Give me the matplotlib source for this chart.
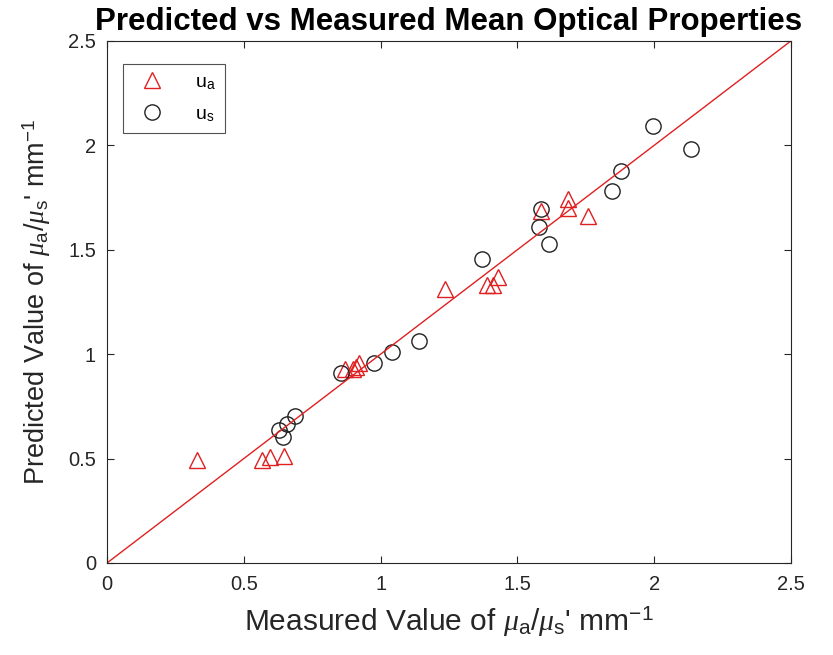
import matplotlib
matplotlib.use("Agg")
import matplotlib.pyplot as plt

plt.rcParams['font.family'] = ['Liberation Sans', 'DejaVu Sans']
plt.rcParams['mathtext.fontset'] = 'custom'
plt.rcParams['mathtext.rm'] = 'Liberation Sans'
plt.rcParams['mathtext.it'] = 'Liberation Serif:italic'

# data
ua_measured = [0.33, 0.567, 0.597, 0.648, 0.87, 0.90, 0.91, 0.92, 1.237, 1.39, 1.41, 1.43, 1.587, 1.686, 1.686, 1.758]
ua_predicted = [0.493, 0.493, 0.508, 0.512, 0.93, 0.93, 0.94, 0.96, 1.312, 1.33, 1.33, 1.37, 1.687, 1.742, 1.699, 1.662]
us_measured = [0.627, 0.645, 0.657, 0.688, 0.855, 0.975, 1.042, 1.139, 1.369, 1.578, 1.587, 1.615, 1.845, 1.880, 1.994, 2.134]
us_predicted = [0.637, 0.602, 0.666, 0.705, 0.911, 0.956, 1.009, 1.065, 1.454, 1.608, 1.695, 1.528, 1.783, 1.877, 2.093, 1.981]
line_x = [0, 2.5]
line_y = [0, 2.5]
ticks = [0, 0.5, 1, 1.5, 2, 2.5]
tick_labels = ['0', '0.5', '1', '1.5', '2', '2.5']

fig = plt.figure(figsize=(8.33, 6.55), dpi=100)
ax = fig.add_axes([0.1285, 0.1405, 0.821, 0.797])

ax.plot(ua_measured, ua_predicted, linestyle='none', marker='^', markersize=11,
        markerfacecolor='none', markeredgecolor='#e02020', markeredgewidth=1.0, label='u$_\\mathrm{a}$')
ax.plot(us_measured, us_predicted, linestyle='none', marker='o', markersize=11,
        markerfacecolor='none', markeredgecolor='#222222', markeredgewidth=1.0, label='u$_\\mathrm{s}$')
ax.plot(line_x, line_y, color='#e02020', linewidth=1.0)

ax.set_xlim(0, 2.5)
ax.set_ylim(0, 2.5)
ax.set_xticks(ticks)
ax.set_xticklabels(tick_labels)
ax.set_yticks(ticks)
ax.set_yticklabels(tick_labels)
ax.tick_params(direction='in', top=True, right=True, labelsize=14.5, colors='#262626', length=5, width=0.8)
ax.tick_params(axis='x', pad=9)
ax.tick_params(axis='y', pad=8)
for s in ax.spines.values():
    s.set_color('#262626')
    s.set_linewidth(0.8)

ax.set_xlabel("Measured Value of $\\mu_\\mathrm{a}$/$\\mu_\\mathrm{s}$' mm$^{-1}$", fontsize=21.5, color='#262626', labelpad=8)
ax.set_ylabel("Predicted Value of $\\mu_\\mathrm{a}$/$\\mu_\\mathrm{s}$' mm$^{-1}$", fontsize=19.5, color='#262626', labelpad=11)
ax.set_title('Predicted vs Measured Mean Optical Properties', fontsize=22.5, fontweight='bold', pad=8)

leg = ax.legend(loc='upper left', bbox_to_anchor=(0.009, 0.975), fontsize=14, frameon=True,
                fancybox=False, edgecolor='#262626', handletextpad=1.2, borderpad=0.5, labelspacing=0.7)
leg.get_frame().set_linewidth(0.8)

fig.savefig('out.png', dpi=100)
